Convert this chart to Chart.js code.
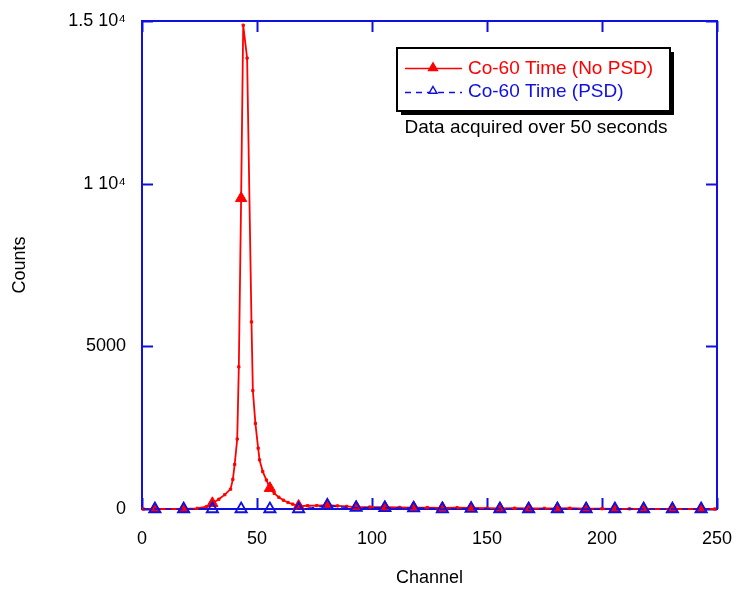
<!DOCTYPE html>
<html>
<head>
<meta charset="utf-8">
<script src="https://cdn.jsdelivr.net/npm/chart.js@4/dist/chart.umd.min.js"></script>
<style>
  html, body { margin: 0; padding: 0; background: #fff; }
  #wrap { width: 735px; height: 597px; }
</style>
</head>
<body>
<div id="wrap"><canvas id="chart"></canvas></div>
<script>
// --- DATA ---
const redChannels = [0.6, 5.6, 18.1, 24, 28, 30.6, 33.4, 36, 38.5, 39.5, 40.3, 41.4, 42.1, 43.1, 44.0, 45.7, 47.6, 48.2, 49.3, 50.5, 51.1, 52.5, 54.1, 55.6, 57.5, 59.5, 61.5, 63.5, 65.5, 68.1, 72, 76, 80.6, 85, 89, 93.1, 99, 105.6, 112, 118.1, 124, 130.6, 137, 143.1, 150, 155.6, 162, 168.1, 175, 180.6, 186, 193.1, 200, 205.6, 212, 218.1, 230.6, 243.1, 249];
const redCounts   = [0, 0, 0, 20, 70, 175, 300, 440, 610, 910, 1370, 2150, 4370, 9550, 14870, 13860, 5750, 3640, 2630, 1870, 1510, 1150, 890, 640, 480, 360, 270, 200, 150, 90, 100, 105, 115, 95, 80, 60, 60, 55, 50, 45, 45, 35, 40, 30, 25, 20, 25, 15, 20, 15, 25, 10, 10, 5, 5, 5, 0, 0, 0];

const blueChannels = [0.6, 5.6, 18.1, 30.6, 43.1, 55.6, 68.1, 74, 80.6, 87, 93.1, 105.6, 118.1, 124, 130.6, 143.1, 155.6, 168.1, 180.6, 193.1, 205.6, 218.1, 230.6, 243.1, 249];
const blueCounts   = [0, 0, 0, 0, 0, 0, 0, 40, 110, 60, 40, 35, 25, 20, 0, 10, 0, 0, 0, 0, 0, 0, 0, 0, 0];

// channels that carry a triangle marker
const markerChannels = [5.6, 18.1, 30.6, 43.1, 55.6, 68.1, 80.6, 93.1, 105.6, 118.1, 130.6, 143.1, 155.6, 168.1, 180.6, 193.1, 205.6, 218.1, 230.6, 243.1];

const yTickLabels = ['0', '5000', '1 10\u2074', '1.5 10\u2074'];
const seriesNames = ['Co-60 Time (No PSD)', 'Co-60 Time (PSD)'];
const noteText = 'Data acquired over 50 seconds';

const RED = '#ff0000';
const BLUE = '#1010e0';
const FONT = 'Arial, "Liberation Sans", sans-serif';

const isMarker = (c) => markerChannels.includes(c);

// --- FRAME + INWARD TICKS ---
const framePlugin = {
    id: 'frame',
    beforeDatasetsDraw(chart) {
        const { ctx, chartArea: a, scales: { x, y } } = chart;
        const len = 11;
        ctx.save();
        ctx.strokeStyle = BLUE;
        ctx.lineWidth = 2;
        ctx.strokeRect(a.left, a.top, a.right - a.left, a.bottom - a.top);
        ctx.beginPath();
        x.ticks.forEach(t => {
            const px = Math.round(x.getPixelForValue(t.value)) + 0.5;
            ctx.moveTo(px, a.bottom); ctx.lineTo(px, a.bottom - len);
            ctx.moveTo(px, a.top); ctx.lineTo(px, a.top + len);
        });
        y.ticks.forEach(t => {
            const py = Math.round(y.getPixelForValue(t.value)) + 0.5;
            ctx.moveTo(a.left, py); ctx.lineTo(a.left + len, py);
            ctx.moveTo(a.right, py); ctx.lineTo(a.right - len, py);
        });
        ctx.stroke();
        ctx.restore();
    }
};

// --- LEGEND BOX ---
function tri(ctx, cx, cy, r, fill, stroke) {
    ctx.beginPath();
    ctx.moveTo(cx, cy - r);
    ctx.lineTo(cx + r * 0.866, cy + r * 0.5);
    ctx.lineTo(cx - r * 0.866, cy + r * 0.5);
    ctx.closePath();
    if (fill) { ctx.fillStyle = fill; ctx.fill(); }
    if (stroke) { ctx.strokeStyle = stroke; ctx.lineWidth = 1.5; ctx.stroke(); }
}

const legendPlugin = {
    id: 'boxLegend',
    afterDraw(chart) {
        const ctx = chart.ctx;
        const bx = 397, by = 48, bw = 273, bh = 63;
        ctx.save();
        ctx.fillStyle = '#000';
        ctx.fillRect(bx + 4, by + 4, bw, bh);
        ctx.fillStyle = '#fff';
        ctx.fillRect(bx, by, bw, bh);
        ctx.strokeStyle = '#000';
        ctx.lineWidth = 2;
        ctx.strokeRect(bx, by, bw, bh);

        ctx.font = '19px ' + FONT;
        ctx.textBaseline = 'middle';
        ctx.textAlign = 'left';

        // red row
        ctx.strokeStyle = RED; ctx.lineWidth = 1.5;
        ctx.beginPath(); ctx.moveTo(405, 68.5); ctx.lineTo(462, 68.5); ctx.stroke();
        tri(ctx, 433, 68, 6.5, RED, null);
        ctx.fillStyle = RED;
        ctx.fillText(seriesNames[0], 468, 69);

        // blue row
        ctx.strokeStyle = BLUE; ctx.lineWidth = 1.5;
        ctx.setLineDash([6, 5]);
        ctx.beginPath(); ctx.moveTo(405, 92.5); ctx.lineTo(462, 92.5); ctx.stroke();
        ctx.setLineDash([]);
        tri(ctx, 433, 91, 4.5, '#fff', BLUE);
        ctx.fillStyle = BLUE;
        ctx.fillText(seriesNames[1], 468, 92);

        ctx.fillStyle = '#000';
        ctx.textAlign = 'center';
        ctx.fillText(noteText, 536, 128);
        ctx.restore();
    }
};

// --- CHART ---
new Chart(document.getElementById('chart'), {
    type: 'line',
    data: {
        datasets: [
            {
                label: seriesNames[1],
                data: blueChannels.map((c, i) => ({ x: c, y: blueCounts[i] })),
                borderColor: BLUE,
                borderWidth: 1.5,
                borderDash: [6, 5],
                pointStyle: 'triangle',
                pointRadius: ctx => isMarker(ctx.raw.x) ? 6.5 : 0,
                pointBackgroundColor: 'rgba(0,0,0,0)',
                pointBorderColor: BLUE,
                pointBorderWidth: 1.8,
                tension: 0,
                clip: false,
                order: 0
            },
            {
                label: seriesNames[0],
                data: redChannels.map((c, i) => ({ x: c, y: redCounts[i] })),
                borderColor: RED,
                borderWidth: 1.8,
                pointStyle: ctx => isMarker(ctx.raw.x) ? 'triangle' : 'rect',
                pointRadius: ctx => isMarker(ctx.raw.x) ? 6.5 : 1.6,
                pointBackgroundColor: RED,
                pointBorderColor: RED,
                pointBorderWidth: 1,
                tension: 0,
                clip: false,
                order: 1
            }
        ]
    },
    options: {
        responsive: true,
        maintainAspectRatio: false,
        animation: false,
        layout: { padding: { top: 21, right: 18, left: 0, bottom: 0 } },
        plugins: { legend: { display: false }, tooltip: { enabled: false } },
        scales: {
            x: {
                type: 'linear',
                min: 0, max: 250,
                afterFit: s => { s.height = 88; s.paddingLeft = 0; s.paddingRight = 0; },
                border: { display: false },
                grid: { display: false },
                ticks: {
                    stepSize: 50, autoSkip: false, maxRotation: 0,
                    color: '#000', padding: 11,
                    font: { family: FONT, size: 18 }
                },
                title: {
                    display: true, text: 'Channel', color: '#000',
                    font: { family: FONT, size: 18 },
                    padding: { top: 0, bottom: 8 }
                }
            },
            y: {
                type: 'linear',
                min: 0, max: 15000,
                afterFit: s => { s.width = 142; s.paddingTop = 0; s.paddingBottom = 0; },
                border: { display: false },
                grid: { display: false },
                ticks: {
                    stepSize: 5000, color: '#000', padding: 8,
                    font: { family: FONT, size: 18 },
                    callback: (v, i) => yTickLabels[i]
                },
                title: {
                    display: true, text: 'Counts', color: '#000',
                    font: { family: FONT, size: 18 },
                    padding: { top: 9, bottom: 0 }
                }
            }
        }
    },
    plugins: [framePlugin, legendPlugin]
});
</script>
</body>
</html>
